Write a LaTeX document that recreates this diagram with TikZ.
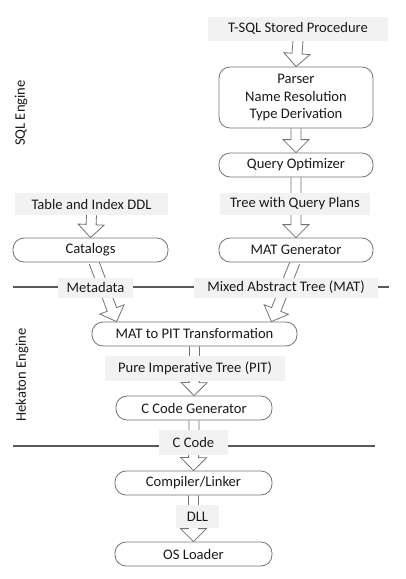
\documentclass[tikz,border=0pt]{standalone}
\usepackage{fontspec}
\setmainfont{Carlito}
\usetikzlibrary{calc}
\usetikzlibrary{backgrounds}
\definecolor{labelgrey}{HTML}{F2F2F2}
\definecolor{edgegrey}{HTML}{737373}
\definecolor{linegrey}{HTML}{595959}
\definecolor{textgrey}{HTML}{1A1A1A}
\tikzset{>=latex}

% hollow block arrow from #1 to #2
\newcommand{\hollowarrow}[2]{%
  \draw[arrowbody] ($(#1)!5pt!90:(#2)$) -- ($(#2)!13pt!(#1)!5pt!90:(#2)$)
    -- ($(#2)!13pt!(#1)!13pt!90:(#2)$) -- (#2)
    -- ($(#2)!13pt!(#1)!13pt!-90:(#2)$) -- ($(#2)!13pt!(#1)!5pt!-90:(#2)$)
    -- ($(#1)!5pt!-90:(#2)$);}

\begin{document}
\begin{tikzpicture}[x=1pt, y=-1pt,
    every node/.style={font=\fontsize{14.6}{17.5}\selectfont, text=textgrey},
    enginebox/.style={draw=edgegrey, fill=white, rounded corners=11pt, line width=0.8pt,
      minimum height=24pt, inner sep=0pt, align=center},
    flowlabel/.style={fill=labelgrey, inner sep=0pt, minimum height=24pt},
    arrowbody/.style={draw=edgegrey, fill=white, line width=0.8pt, line join=miter},
    divider/.style={draw=linegrey, line width=1.2pt}]
    \useasboundingbox (0,0) rectangle (406,579);

    % SQL engine
    \node[flowlabel, minimum width=180pt] (tsql) at (298,28.5) {T-SQL Stored Procedure};
    \node[enginebox, minimum width=154pt, minimum height=61pt] (parser) at (296,97.5) {Parser\\Name Resolution\\Type Derivation};
    \node[enginebox, minimum width=154pt] (qopt) at (296,165) {Query Optimizer};
    \node[flowlabel, minimum width=150pt, minimum height=22pt] (plans) at (295,204) {Tree with Query Plans};
    \node[enginebox, minimum width=154pt] (matgen) at (296,250) {MAT Generator};

    \node[flowlabel, minimum width=153pt, minimum height=22pt] (ddl) at (91.5,204) {Table and Index DDL};
    \node[enginebox, minimum width=155pt] (catalogs) at (90.5,250) {Catalogs};

    \node[flowlabel, minimum width=75pt, minimum height=20pt] (metadata) at (95.5,287.5) {Metadata};
    \node[flowlabel, minimum width=184pt, minimum height=20pt] (mat) at (286,287.5) {Mixed Abstract Tree (MAT)};

    % Hekaton engine
    \node[enginebox, minimum width=205pt] (mat2pit) at (194.5,334) {MAT to PIT Transformation};
    \node[flowlabel, minimum width=180pt, minimum height=25pt] (pit) at (195,368.5) {Pure Imperative Tree (PIT)};
    \node[enginebox, minimum width=156pt] (ccgen) at (194,408) {C Code Generator};
    \node[flowlabel, minimum width=69pt, minimum height=25pt] (ccode) at (193.5,442.5) {C Code};

    % compiler
    \node[enginebox, minimum width=157pt] (compiler) at (193.5,483) {Compiler/Linker};
    \node[flowlabel, minimum width=43pt, minimum height=23pt] (dll) at (197.5,516.5) {DLL};
    \node[enginebox, minimum width=157pt] (osloader) at (193.5,554) {OS Loader};

    \node[rotate=90] (sqleng) at (21,113) {SQL Engine};
    \node[rotate=90] (hekeng) at (22,375) {Hekaton Engine};

    \coordinate (lineA) at (13,287);
    \coordinate (lineB) at (389,287);
    \coordinate (lineC) at (13,446);
    \coordinate (lineD) at (375,446);

    \begin{scope}[on background layer]
    \draw[divider] (lineA) -- (lineB);
    \draw[divider] (lineC) -- (lineD);
    \hollowarrow{tsql.south}{parser.north}
    \hollowarrow{parser.south}{qopt.north}
    \hollowarrow{qopt.south}{matgen.north}
    \hollowarrow{ddl.south}{catalogs.north}
    \hollowarrow{$(catalogs.south)+(3.5,0)$}{$(mat2pit.north west)+(25,0)$}
    \hollowarrow{$(matgen.south)+(-1,0)$}{$(mat2pit.north east)+(-26,0)$}
    \hollowarrow{mat2pit.south}{ccgen.north}
    \hollowarrow{ccgen.south}{compiler.north}
    \hollowarrow{compiler.south}{osloader.north}
    \end{scope}
\end{tikzpicture}
\end{document}
